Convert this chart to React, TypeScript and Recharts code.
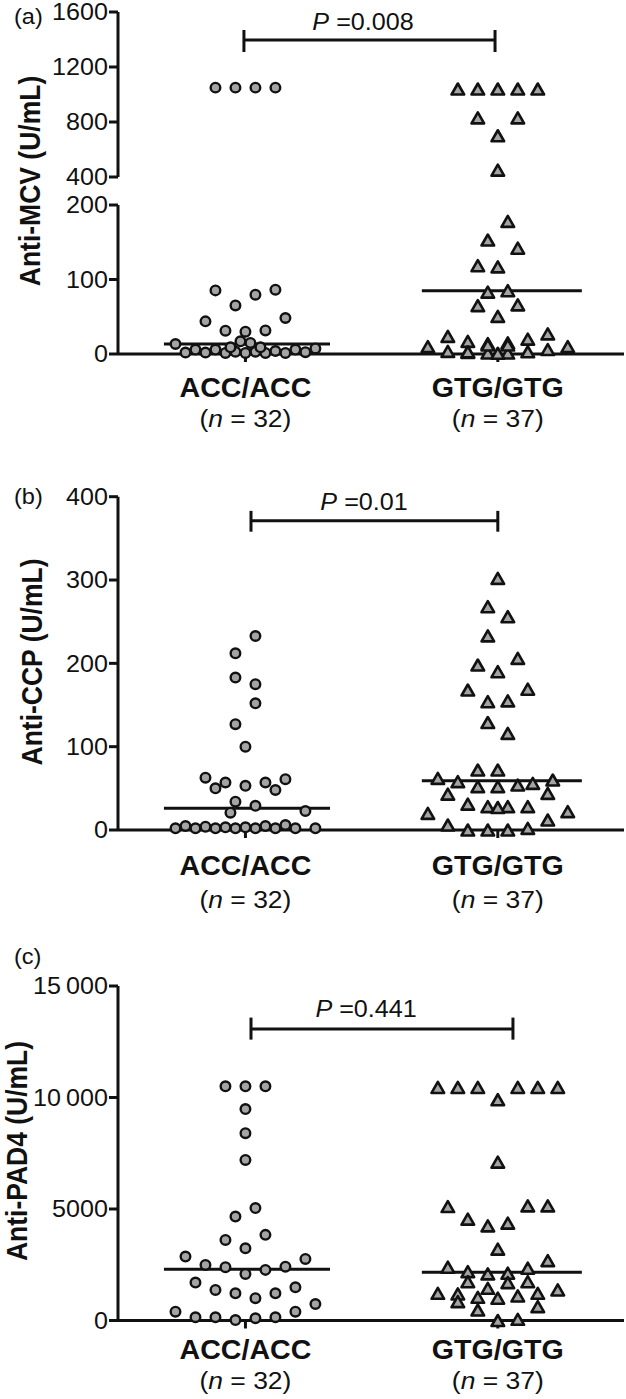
import React from "react";
import {
  ScatterChart,
  Scatter,
  XAxis,
  YAxis,
  ReferenceLine,
  ReferenceDot,
  Customized,
} from "recharts";

// ---------------- data ----------------
const categories = ["ACC/ACC", "GTG/GTG"];
const groupSizes = [32, 37];

// (a) Anti-MCV (broken axis: 0-200 and 400-1600)
const mcvTicksUpper = [400, 800, 1200, 1600];
const mcvTicksLower = [0, 100, 200];
const mcvAcc = [1050, 1050, 1050, 1050, 85.4, 79.6, 86.3, 65.2, 43.8, 48.3, 31.3, 30, 31.7, 17, 14.8, 13.4, 2, 6, 2, 6, 1.5, 3, 1.5, 3, 1.5, 4, 1.5, 6, 2.5, 7.5, 9, 9];
const mcvAccCol = [-6, -2, 2, 6, -6, 2, 6, -2, -8, 8, -4, 0, 4, -1, 1, -14, -12, -10, -8, -6, -4, -2, 0, 2, 4, 6, 8, 10, 12, 14, -3, 3];
const mcvGtg = [1040, 1040, 1040, 1040, 1040, 830, 830, 700, 450, 178, 153, 142, 118.5, 117, 83, 85, 65, 66, 50.5, 23.6, 17, 14, 14.8, 20, 27, 10, 10, 3.5, 2, 1.3, 1.3, 3, 6, 1, 12, 12, 3];
const mcvGtgCol = [-8, -4, 0, 4, 8, -4, 4, 0, 0, 2, -2, 4, -4, 0, -2, 2, -4, 4, 0, -10, -6, -2, 2, 6, 10, -14, 14, -10, -6, -2, 2, 6, 10, 0, -2, 2, -6];
const mcvMedians = [13.4, 85];

// (b) Anti-CCP
const ccpTicks = [0, 100, 200, 300, 400];
const ccpAcc = [232.8, 212, 183, 175, 152, 127, 100, 62.8, 50, 57, 53, 57, 48, 61, 34, 29, 20.8, 22.8, 2, 4.8, 2, 4, 2, 3.2, 2, 3.2, 2, 4.8, 2, 6, 2, 2];
const ccpAccCol = [2, -2, -2, 2, 2, -2, 0, -8, -6, -4, 0, 4, 6, 8, -2, 2, -3, 12, -14, -12, -10, -8, -6, -4, -2, 0, 2, 4, 6, 8, 10, 14];
const ccpGtg = [302, 268, 256, 233, 206, 198, 190, 168, 169, 154, 155, 129, 116, 72, 72, 62, 58, 52, 52, 54, 56, 60, 43, 44, 31, 28, 28, 28, 20, 22, 12, 6, 0, 0, 0, 2, 27];
const ccpGtgCol = [0, -2, 2, -2, 4, -4, 0, -6, 6, -2, 2, -2, 2, -4, 0, -12, -8, -4, 0, 4, 7, 11, -10, 10, -6, -2, 2, 6, -14, 14, 10, -10, -6, -2, 2, 6, 0];
const ccpMedians = [26, 59];

// (c) Anti-PAD4
const padTicks = [0, 5000, 10000, 15000];
const padTickLabels = ["0", "5000", "10\u2009000", "15\u2009000"];
const padAcc = [10500, 10500, 10500, 9480, 8400, 7200, 5040, 4660, 3840, 3615, 3240, 2865, 2760, 2490, 2390, 2090, 2270, 2415, 1700, 1370, 1220, 1000, 1220, 1490, 740, 395, 145, 145, 20, 100, 145, 395];
const padAccCol = [-4, 0, 4, 0, 0, 0, 2, -2, 4, -4, 0, -12, 12, -8, -4, 0, 4, 8, -10, -6, -2, 2, 6, 10, 14, -14, -10, -6, -2, 2, 6, 10];
const padGtg = [10450, 10450, 10450, 10450, 10450, 10450, 9900, 7100, 5110, 5140, 5140, 4545, 4245, 4365, 3200, 2685, 2390, 2345, 2190, 2090, 2120, 1740, 1700, 1740, 1445, 1220, 1190, 845, 1040, 1000, 1100, 1220, 1370, 470, 620, 0, 55];
const padGtgCol = [-12, -8, -4, 4, 8, 12, 0, 0, -10, 6, 10, -6, -2, 2, 0, 10, -10, 6, -6, -2, 2, -6, 2, 6, -2, -12, -8, -8, -4, 0, 4, 8, 12, -4, 8, 0, 4];
const padMedians = [2300, 2165];

const pLabels = ["=0.008", "=0.01", "=0.441"];

// ---------------- styling / layout ----------------
const FONT = '"Liberation Sans", Arial, Helvetica, sans-serif';
const INK = "#111111";
const FILL = "#a4a4a4";
const W = 626;
const X_DOMAIN: [number, number] = [0.495, 2.5];
const COL_STEP = 0.0198;
const MED_SPAN = [
  [-0.323, 0.335],
  [-0.301, 0.333],
];
const axisStyle = { stroke: INK, strokeWidth: 3 };

function toPoints(values: number[], cols: number[], group: number) {
  return values.map((v, i) => ({ x: group + cols[i] * COL_STEP, y: v }));
}

const CircleMark = (p: any) => {
  if (p.cx == null || p.cy == null) return null;
  return <circle cx={p.cx} cy={p.cy} r={4.8} fill={FILL} stroke={INK} strokeWidth={2.4} />;
};

const TriangleMark = (p: any) => {
  if (p.cx == null || p.cy == null) return null;
  const hw = 6.3;
  const h = 11;
  const t = p.cy - h / 2;
  const b = p.cy + h / 2;
  return (
    <path
      d={`M${p.cx},${t}L${p.cx + hw},${b}L${p.cx - hw},${b}Z`}
      fill={FILL}
      stroke={INK}
      strokeWidth={2.6}
      strokeLinejoin="round"
    />
  );
};

const makeYTick = (labels?: string[], ticks?: number[]) => (p: any) => {
  const v = p.payload.value;
  let s = String(v);
  if (labels && ticks) {
    const idx = ticks.indexOf(v);
    if (idx >= 0) s = labels[idx];
  }
  return (
    <text
      transform={`translate(${p.x},${p.y}) scale(1.07,1)`}
      textAnchor="end"
      dy="0.36em"
      fontSize={23.5}
      fontFamily={FONT}
      fill={INK}
    >
      {s}
    </text>
  );
};

const makeXTick = (catDy: number, nDy: number) => (p: any) => {
  const i = Math.round(p.payload.value) - 1;
  return (
    <g>
      <text
        transform={`translate(${p.x},${p.y + catDy}) scale(1.06,1)`}
        textAnchor="middle"
        fontSize={27}
        fontWeight="bold"
        fontFamily={FONT}
        fill={INK}
      >
        {categories[i]}
      </text>
      <text
        transform={`translate(${p.x},${p.y + nDy}) scale(1.08,1)`}
        textAnchor="middle"
        fontSize={24.5}
        fontFamily={FONT}
        fill={INK}
      >
        (<tspan fontStyle="italic">n</tspan> = {groupSizes[i]})
      </text>
    </g>
  );
};

const PanelTexts = (props: any) => {
  const { letter, letterY, yLabel, yLabelX, yLabelY } = props;
  return (
    <g>
      <text
        transform={`translate(14,${letterY}) scale(1.07,1)`}
        fontSize={22}
        fontFamily={FONT}
        fill={INK}
      >
        {letter}
      </text>
      <text
        transform={`translate(${yLabelX},${yLabelY}) scale(1.1,1) rotate(-90)`}
        textAnchor="middle"
        dy="0.36em"
        fontSize={26.5}
        fontWeight="bold"
        fontFamily={FONT}
        fill={INK}
      >
        {yLabel}
      </text>
    </g>
  );
};

const PText = (text: string) => (lp: any) => {
  const vb = lp.viewBox || {};
  const x = (vb.x || 0) + (vb.width || 0) / 2;
  const y = (vb.y || 0) + (vb.height || 0) / 2;
  return (
    <text
      transform={`translate(${x},${y}) scale(1.07,1)`}
      textAnchor="middle"
      fontSize={23.5}
      fontFamily={FONT}
      fill={INK}
    >
      <tspan fontStyle="italic">P</tspan> {text}
    </text>
  );
};

function medianLines(medians: number[]) {
  return medians.map((m, g) => (
    <ReferenceLine
      key={`med-${g}`}
      segment={[
        { x: g + 1 + MED_SPAN[g][0], y: m },
        { x: g + 1 + MED_SPAN[g][1], y: m },
      ]}
      stroke={INK}
      strokeWidth={3}
      ifOverflow="visible"
    />
  ));
}

function bracket(x1: number, x2: number, y: number, yLo: number, yHi: number, textX: number, textY: number, text: string) {
  return [
    <ReferenceLine key="bh" segment={[{ x: x1, y }, { x: x2, y }]} stroke={INK} strokeWidth={3} ifOverflow="visible" />,
    <ReferenceLine key="bl" segment={[{ x: x1, y: yLo }, { x: x1, y: yHi }]} stroke={INK} strokeWidth={3} ifOverflow="visible" />,
    <ReferenceLine key="br" segment={[{ x: x2, y: yLo }, { x: x2, y: yHi }]} stroke={INK} strokeWidth={3} ifOverflow="visible" />,
    <ReferenceDot key="bt" x={textX} y={textY} r={0} fill="none" stroke="none" ifOverflow="visible" label={{ content: PText(text) }} />,
  ];
}

// points
const mcvAccPts = toPoints(mcvAcc, mcvAccCol, 1);
const mcvGtgPts = toPoints(mcvGtg, mcvGtgCol, 2);
const ccpAccPts = toPoints(ccpAcc, ccpAccCol, 1);
const ccpGtgPts = toPoints(ccpGtg, ccpGtgCol, 2);
const padAccPts = toPoints(padAcc, padAccCol, 1);
const padGtgPts = toPoints(padGtg, padGtgCol, 2);

export default function App() {
  const yTick = makeYTick();
  const padYTick = makeYTick(padTickLabels, padTicks);
  return (
    <div style={{ position: "absolute", left: 0, top: 0, width: W, height: 1399, background: "#fff" }}>
      {/* Panel (a) upper part */}
      <div style={{ position: "absolute", left: 0, top: 0 }}>
        <ScatterChart width={W} height={440} margin={{ top: 12, right: 2, bottom: 263, left: 0 }}>
          <XAxis type="number" dataKey="x" domain={X_DOMAIN} hide />
          <YAxis
            type="number"
            dataKey="y"
            domain={[400, 1600]}
            ticks={mcvTicksUpper}
            interval={0}
            width={118}
            axisLine={axisStyle}
            tickLine={axisStyle}
            tickSize={9}
            tickMargin={1}
            tick={yTick}
          />
          <Scatter data={mcvAccPts.filter((d) => d.y >= 400)} shape={CircleMark} isAnimationActive={false} />
          <Scatter data={mcvGtgPts.filter((d) => d.y >= 400)} shape={TriangleMark} isAnimationActive={false} />
          {bracket(0.994, 1.989, 1396, 1309, 1469, 1.466, 1469, pLabels[0])}
          <Customized
            component={
              <PanelTexts letter="(a)" letterY={24} yLabel="Anti-MCV (U/mL)" yLabelX={30} yLabelY={181} />
            }
          />
        </ScatterChart>
      </div>
      {/* Panel (a) lower part */}
      <div style={{ position: "absolute", left: 0, top: 0 }}>
        <ScatterChart width={W} height={440} margin={{ top: 205, right: 2, bottom: 6, left: 0 }}>
          <XAxis
            type="number"
            dataKey="x"
            domain={X_DOMAIN}
            ticks={[1, 2]}
            interval={0}
            height={80}
            axisLine={axisStyle}
            tickLine={axisStyle}
            tickSize={8}
            tickMargin={0}
            tick={makeXTick(35, 65)}
          />
          <YAxis
            type="number"
            dataKey="y"
            domain={[0, 200]}
            ticks={mcvTicksLower}
            interval={0}
            width={118}
            axisLine={axisStyle}
            tickLine={axisStyle}
            tickSize={9}
            tickMargin={1}
            tick={yTick}
          />
          <Scatter data={mcvAccPts.filter((d) => d.y <= 200)} shape={CircleMark} isAnimationActive={false} />
          <Scatter data={mcvGtgPts.filter((d) => d.y <= 200)} shape={TriangleMark} isAnimationActive={false} />
          {medianLines(mcvMedians)}
        </ScatterChart>
      </div>

      {/* Panel (b) */}
      <div style={{ position: "absolute", left: 0, top: 440 }}>
        <ScatterChart width={W} height={490} margin={{ top: 56.7, right: 2, bottom: 20, left: 0 }}>
          <XAxis
            type="number"
            dataKey="x"
            domain={X_DOMAIN}
            ticks={[1, 2]}
            interval={0}
            height={80}
            axisLine={axisStyle}
            tickLine={axisStyle}
            tickSize={8}
            tickMargin={0}
            tick={makeXTick(37, 70)}
          />
          <YAxis
            type="number"
            dataKey="y"
            domain={[0, 400]}
            ticks={ccpTicks}
            interval={0}
            width={118}
            axisLine={axisStyle}
            tickLine={axisStyle}
            tickSize={9}
            tickMargin={1}
            tick={yTick}
          />
          <Scatter data={ccpAccPts} shape={CircleMark} isAnimationActive={false} />
          <Scatter data={ccpGtgPts} shape={TriangleMark} isAnimationActive={false} />
          {medianLines(ccpMedians)}
          {bracket(1.022, 2.0, 371, 358, 383, 1.47, 384, pLabels[1])}
          <Customized
            component={
              <PanelTexts letter="(b)" letterY={64} yLabel="Anti-CCP (U/mL)" yLabelX={32} yLabelY={222} />
            }
          />
        </ScatterChart>
      </div>

      {/* Panel (c) */}
      <div style={{ position: "absolute", left: 0, top: 930 }}>
        <ScatterChart width={W} height={469} margin={{ top: 56, right: 2, bottom: 3.5, left: 0 }}>
          <XAxis
            type="number"
            dataKey="x"
            domain={X_DOMAIN}
            ticks={[1, 2]}
            interval={0}
            height={75}
            axisLine={axisStyle}
            tickLine={axisStyle}
            tickSize={8}
            tickMargin={0}
            tick={makeXTick(30, 60)}
          />
          <YAxis
            type="number"
            dataKey="y"
            domain={[0, 15000]}
            ticks={padTicks}
            interval={0}
            width={118}
            axisLine={axisStyle}
            tickLine={axisStyle}
            tickSize={9}
            tickMargin={1}
            tick={padYTick}
          />
          <Scatter data={padAccPts} shape={CircleMark} isAnimationActive={false} />
          <Scatter data={padGtgPts} shape={TriangleMark} isAnimationActive={false} />
          {medianLines(padMedians)}
          {bracket(1.022, 2.06, 13067, 12595, 13583, 1.478, 13628, pLabels[2])}
          <Customized
            component={
              <PanelTexts letter="(c)" letterY={34} yLabel="Anti-PAD4 (U/mL)" yLabelX={17} yLabelY={221} />
            }
          />
        </ScatterChart>
      </div>
    </div>
  );
}
